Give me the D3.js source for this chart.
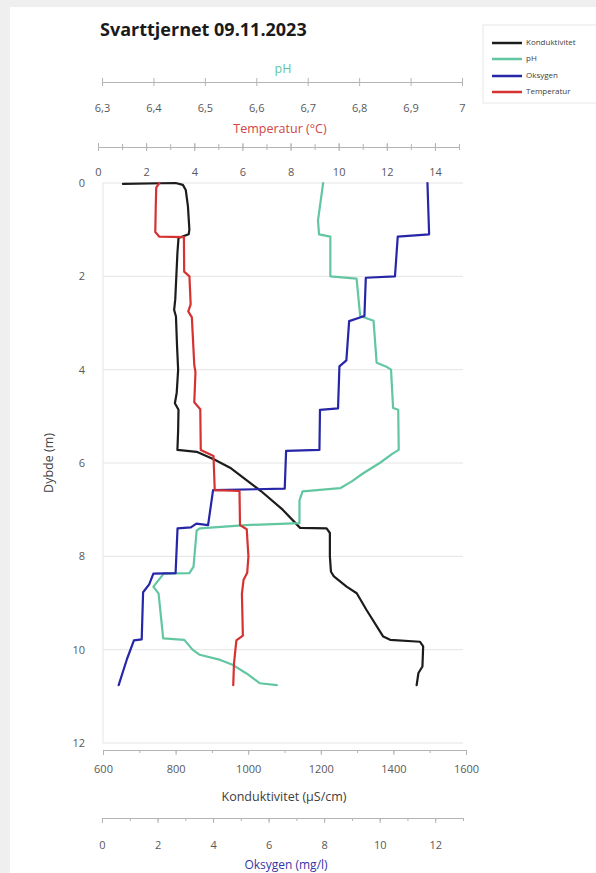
<!DOCTYPE html>
<html><head><meta charset="utf-8">
<script src="https://cdn.jsdelivr.net/npm/d3@7"></script>
<style>
html,body{margin:0;padding:0;background:#efefef;}
svg{display:block;font-family:"Open Sans",sans-serif;}
</style></head><body>
<svg id="chart" width="596" height="873"></svg>
<script>
// Depth profile, Svarttjernet 09.11.2023
const chartTitle = "Svarttjernet 09.11.2023";
const seriesNames = ["Konduktivitet", "pH", "Oksygen", "Temperatur"];
const seriesColors = ["#1c1c1c", "#62c7a1", "#2626a8", "#d63232"];

const depthTicks = [0, 2, 4, 6, 8, 10, 12];
const phTicks = [6.3, 6.4, 6.5, 6.6, 6.7, 6.8, 6.9, 7.0];
const tempTicks = [0, 2, 4, 6, 8, 10, 12, 14];
const condTicks = [600, 800, 1000, 1200, 1400, 1600];
const oxyTicks = [0, 2, 4, 6, 8, 10, 12];

// Konduktivitet (µS/cm)
const condDepth = [0.02, 0.0, 0.04, 0.15, 0.5, 1.0, 1.1, 1.18, 1.5, 2.0, 2.5, 2.72, 2.86, 3.5, 4.0, 4.5, 4.72, 4.86, 5.3, 5.72, 5.76, 5.93, 6.1, 6.6, 7.0, 7.39, 7.4, 7.5, 8.0, 8.33, 8.43, 8.65, 8.79, 9.15, 9.72, 9.79, 9.83, 9.93, 10.36, 10.5, 10.76];
const condValues = [655, 800, 820, 828, 834, 838, 836, 808, 805, 802, 799, 796, 801, 804, 807, 803, 798, 808, 807, 805, 858, 908, 950, 1035, 1095, 1143, 1216, 1225, 1225, 1228, 1236, 1271, 1299, 1326, 1372, 1391, 1473, 1482, 1480, 1469, 1464];

// pH
const phDepth = [0.0, 0.4, 0.8, 1.1, 1.15, 2.0, 2.05, 2.85, 2.95, 3.85, 3.93, 4.0, 4.82, 4.86, 5.72, 5.8, 6.0, 6.22, 6.4, 6.54, 6.61, 6.8, 7.29, 7.33, 7.4, 7.45, 8.22, 8.36, 8.37, 8.65, 8.8, 9.76, 9.79, 10.0, 10.11, 10.22, 10.33, 10.51, 10.72, 10.76];
const phValues = [6.73, 6.725, 6.72, 6.722, 6.744, 6.744, 6.795, 6.802, 6.828, 6.834, 6.852, 6.862, 6.866, 6.876, 6.877, 6.865, 6.84, 6.808, 6.785, 6.763, 6.69, 6.684, 6.684, 6.58, 6.49, 6.484, 6.478, 6.47, 6.42, 6.4, 6.41, 6.419, 6.46, 6.476, 6.49, 6.53, 6.555, 6.581, 6.607, 6.64];

// Oksygen (mg/l)
const oxyDepth = [0.0, 1.1, 1.15, 2.0, 2.03, 2.85, 2.96, 3.8, 3.93, 4.83, 4.86, 5.72, 5.74, 6.55, 6.58, 7.33, 7.3, 7.38, 7.4, 8.36, 8.37, 8.6, 8.77, 9.78, 9.8, 10.2, 10.76];
const oxyValues = [11.72, 11.78, 10.65, 10.55, 9.5, 9.45, 8.9, 8.8, 8.55, 8.5, 7.85, 7.83, 6.63, 6.58, 4.0, 3.82, 3.4, 3.2, 2.72, 2.65, 1.85, 1.7, 1.48, 1.43, 1.15, 0.9, 0.6];

// Temperatur (°C)
const tempDepth = [0.0, 0.1, 0.5, 1.05, 1.15, 1.16, 1.9, 2.0, 2.6, 2.75, 2.88, 3.9, 4.05, 4.7, 4.85, 5.72, 5.85, 6.58, 6.6, 7.33, 7.42, 8.0, 8.35, 8.5, 8.8, 9.7, 9.8, 10.3, 10.76];
const tempValues = [2.55, 2.42, 2.4, 2.38, 2.55, 3.57, 3.58, 3.8, 3.85, 3.75, 3.9, 4.0, 4.05, 4.0, 4.25, 4.27, 4.8, 4.85, 5.88, 5.9, 6.18, 6.25, 6.2, 6.05, 5.98, 6.02, 5.75, 5.65, 5.62];

const svg = d3.select("#chart");
const axisColor = "#b4b4b4";
const labelColor = "#595959";
const decimalComma = d => String(+d.toFixed(1)).replace(".", ",");

// white chart panel
svg.append("rect").attr("x", 10).attr("y", 7).attr("width", 586).attr("height", 866).attr("fill", "#ffffff");

// scales
const y = d3.scaleLinear().domain([0, 12]).range([183, 743]);
const xPh = d3.scaleLinear().domain([6.3, 7.0]).range([102, 462]);
const xTemp = d3.scaleLinear().domain([0, 15]).range([98, 459]);
const xCond = d3.scaleLinear().domain([600, 1600]).range([103, 466]);
const xOxy = d3.scaleLinear().domain([0, 13]).range([102, 463]);

// horizontal gridlines and left border
svg.append("g").selectAll("line").data(depthTicks).join("line")
  .attr("x1", 103).attr("x2", 463)
  .attr("y1", d => y(d)).attr("y2", d => y(d))
  .attr("stroke", "#e4e4e4").attr("stroke-width", 1);
svg.append("line").attr("x1", 103).attr("x2", 103).attr("y1", y(0)).attr("y2", y(12))
  .attr("stroke", "#e4e4e4");

// depth axis labels
const yAxis = svg.append("g").attr("transform", "translate(103,0)")
  .call(d3.axisLeft(y).tickValues(depthTicks).tickSize(0).tickPadding(18).tickFormat(d3.format("d")));
yAxis.select(".domain").remove();
yAxis.selectAll("text").attr("fill", labelColor).style("font-size", "11px").style("font-family", "Open Sans");

svg.append("text").attr("transform", "translate(50,463) rotate(-90)")
  .attr("text-anchor", "middle").attr("dominant-baseline", "middle")
  .attr("fill", "#404040").style("font-size", "12.5px").text("Dybde (m)");

function styleAxis(g, labelY) {
  g.select(".domain").attr("stroke", axisColor);
  g.selectAll(".tick line").attr("stroke", axisColor);
  g.selectAll(".tick text").attr("fill", labelColor).style("font-size", "11px")
    .style("font-family", "Open Sans").attr("y", labelY).attr("dy", "0.35em");
}

// pH axis (top)
const phAxis = svg.append("g").attr("transform", "translate(0,82)")
  .call(d3.axisBottom(xPh).tickValues(phTicks).tickSize(4).tickSizeOuter(0).tickFormat(decimalComma));
styleAxis(phAxis, 26);
phAxis.selectAll(".tick line").attr("y1", -4).attr("y2", 4);
svg.append("text").attr("x", 283).attr("y", 70).attr("text-anchor", "middle").attr("dominant-baseline", "middle")
  .attr("fill", seriesColors[1]).style("font-size", "12.5px").text("pH");

// Temperatur axis (top)
const tempMinor = svg.append("g").attr("transform", "translate(0,147)")
  .call(d3.axisBottom(xTemp).ticks(15).tickSize(3).tickSizeOuter(0).tickFormat(""));
tempMinor.select(".domain").attr("stroke", axisColor);
tempMinor.selectAll(".tick line").attr("stroke", axisColor).attr("y1", -3).attr("y2", 3);
const tempAxis = svg.append("g").attr("transform", "translate(0,147)")
  .call(d3.axisBottom(xTemp).tickValues(tempTicks).tickSize(4).tickSizeOuter(0).tickFormat(d3.format("d")));
styleAxis(tempAxis, 25);
tempAxis.select(".domain").remove();
tempAxis.selectAll(".tick line").attr("y1", -4).attr("y2", 4);
svg.append("text").attr("x", 280).attr("y", 130).attr("text-anchor", "middle").attr("dominant-baseline", "middle")
  .attr("fill", "#d24545").style("font-size", "12.5px").text("Temperatur (°C)");

// Konduktivitet axis (bottom)
const condMinor = svg.append("g").attr("transform", "translate(0,750)")
  .call(d3.axisBottom(xCond).ticks(10).tickSize(3).tickSizeOuter(0).tickFormat(""));
condMinor.select(".domain").attr("stroke", axisColor);
condMinor.selectAll(".tick line").attr("stroke", axisColor);
const condAxis = svg.append("g").attr("transform", "translate(0,750)")
  .call(d3.axisBottom(xCond).tickValues(condTicks).tickSize(5).tickSizeOuter(0).tickFormat(d3.format("d")));
styleAxis(condAxis, 19);
condAxis.select(".domain").remove();
svg.append("text").attr("x", 284).attr("y", 798).attr("text-anchor", "middle").attr("dominant-baseline", "middle")
  .attr("fill", "#404040").style("font-size", "12.5px").text("Konduktivitet (µS/cm)");

// Oksygen axis (bottom)
const oxyMinor = svg.append("g").attr("transform", "translate(0,818)")
  .call(d3.axisBottom(xOxy).ticks(13).tickSize(3).tickSizeOuter(0).tickFormat(""));
oxyMinor.select(".domain").attr("stroke", axisColor);
oxyMinor.selectAll(".tick line").attr("stroke", axisColor);
const oxyAxis = svg.append("g").attr("transform", "translate(0,818)")
  .call(d3.axisBottom(xOxy).tickValues(oxyTicks).tickSize(5).tickSizeOuter(0).tickFormat(d3.format("d")));
styleAxis(oxyAxis, 27);
oxyAxis.select(".domain").remove();
svg.append("text").attr("x", 286).attr("y", 866).attr("text-anchor", "middle").attr("dominant-baseline", "middle")
  .attr("fill", "#3535a5").style("font-size", "12px").text("Oksygen (mg/l)");

// profile lines
const profiles = [
  { depth: condDepth, values: condValues, x: xCond, color: seriesColors[0] },
  { depth: phDepth, values: phValues, x: xPh, color: seriesColors[1] },
  { depth: oxyDepth, values: oxyValues, x: xOxy, color: seriesColors[2] },
  { depth: tempDepth, values: tempValues, x: xTemp, color: seriesColors[3] }
];
profiles.forEach(p => {
  const pts = p.depth.map((d, i) => [p.values[i], d]);
  const line = d3.line().x(d => p.x(d[0])).y(d => y(d[1]));
  svg.append("path").datum(pts).attr("d", line)
    .attr("fill", "none").attr("stroke", p.color).attr("stroke-width", 2.2)
    .attr("stroke-linejoin", "round").attr("stroke-linecap", "round");
});

// title
svg.append("text").attr("x", 100).attr("y", 36).attr("fill", "#1a1a1a")
  .style("font-size", "18px").style("font-weight", "bold").text(chartTitle);

// legend
const legend = svg.append("g");
legend.append("rect").attr("x", 483).attr("y", 25).attr("width", 120).attr("height", 78)
  .attr("fill", "#ffffff").attr("stroke", "#e8e8e8");
const legendY = [43, 59, 76, 92];
seriesNames.forEach((name, i) => {
  legend.append("line").attr("x1", 492).attr("x2", 522).attr("y1", legendY[i]).attr("y2", legendY[i])
    .attr("stroke", seriesColors[i]).attr("stroke-width", 2.5);
  legend.append("text").attr("x", 526).attr("y", legendY[i]).attr("dominant-baseline", "middle")
    .attr("fill", "#404040").style("font-size", "8px").text(name);
});
</script>
</body></html>
